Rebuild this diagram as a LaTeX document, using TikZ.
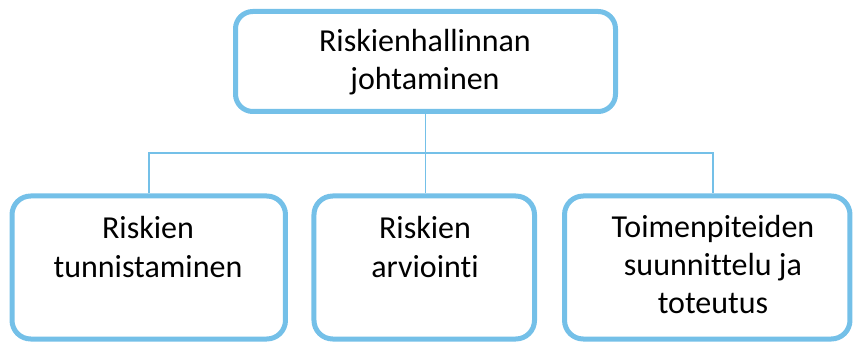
\documentclass[tikz,border=0pt]{standalone}
\usepackage{fontspec}
\setmainfont{Carlito}[Ligatures=NoCommon]
\definecolor{boxblue}{RGB}{116,192,232}
\tikzset{
  riskbox/.style={rectangle, draw=boxblue, line width=3.75pt, fill=white,
                  rounded corners=14pt, inner sep=0pt},
  conn/.style={draw=boxblue, line width=1.3pt},
  lbl/.style={anchor=base, inner sep=0pt, text=black,
              font=\fontsize{24}{28.5}\selectfont}
}
\newcommand\stacklines[1]{\begin{tabular}[t]{@{}c@{}}#1\end{tabular}}
\begin{document}
\begin{tikzpicture}[x=0.75pt, y=-0.75pt]
  \useasboundingbox (0,0) rectangle (854,342);

  % junction points of the connector bus
  \coordinate (busleft) at (148.75,153);
  \coordinate (busmid) at (425.5,153);
  \coordinate (busright) at (713,153);

  % boxes
  \node[riskbox, rounded corners=13pt, minimum width=285pt, minimum height=75pt]
    (head) at (425.5,61.5) {};
  \node[riskbox, minimum width=205.1pt, minimum height=107.25pt]
    (ident) at (148.75,267.5) {};
  \node[riskbox, minimum width=165.4pt, minimum height=107.25pt]
    (assess) at (424.25,267.5) {};
  \node[riskbox, minimum width=214.1pt, minimum height=107.25pt]
    (plan) at (707.25,267.5) {};

  % connectors
  \draw[conn] (head.south) -- (busmid) -- (busmid |- assess.north);
  \draw[conn] (ident.north) -- (busleft) -- (busright) -- (busright |- plan.north);

  % labels
  \node[lbl] (headtxt) at (425,52) {\stacklines{Riskienhallinnan\\johtaminen}};
  \node[lbl] (identtxt) at (148,239) {\stacklines{Riskien\\tunnistaminen}};
  \node[lbl] (assesstxt) at (425,239) {\stacklines{Riskien\\arviointi}};
  \node[lbl] (plantxt) at (713,238) {\stacklines{Toimenpiteiden\\suunnittelu ja\\toteutus}};
\end{tikzpicture}
\end{document}
